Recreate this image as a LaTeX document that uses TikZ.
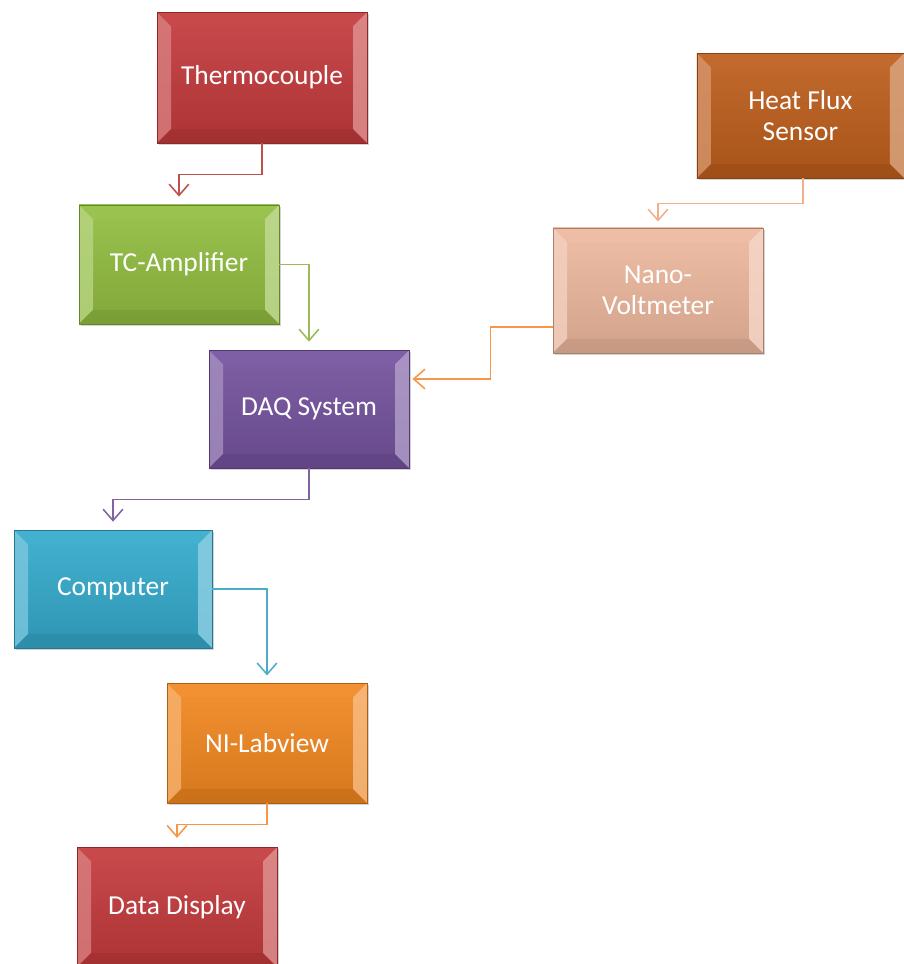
\documentclass[tikz,border=0pt]{standalone}
\usepackage{fontspec}
\usepackage{tikz}
\usetikzlibrary{calc,arrows.meta,shadows}

\newfontfamily\blockfont{Carlito}

\definecolor{thermored}{RGB}{196,58,60}
\definecolor{fluxbrown}{RGB}{190,94,28}
\definecolor{nanopeach}{RGB}{238,184,158}
\definecolor{ampgreen}{RGB}{146,190,64}
\definecolor{daqpurple}{RGB}{116,82,158}
\definecolor{compcyan}{RGB}{52,170,204}
\definecolor{labvieworange}{RGB}{242,136,32}

\definecolor{linkred}{RGB}{192,80,77}
\definecolor{linkgreen}{RGB}{155,187,89}
\definecolor{linkpeach}{RGB}{240,176,140}
\definecolor{linkorange}{RGB}{247,150,70}
\definecolor{linkpurple}{RGB}{128,100,162}
\definecolor{linkcyan}{RGB}{75,172,198}

\tikzset{
  blockbox/.style={
    draw=#1!70!black, line width=0.5pt,
    top color=#1!92!white, bottom color=#1!88!black,
    minimum width=5cm, minimum height=2.975cm,
    text=white, align=center, inner sep=0pt,
    font=\blockfont\fontsize{19.5}{22.5}\selectfont,
    drop shadow={opacity=0.35, shadow xshift=0.04cm, shadow yshift=-0.05cm},
    path picture={
      % side bevels
      \fill[#1!65!white, opacity=0.8] (path picture bounding box.north west) -- ++(0.35cm,-0.35cm)
        -- ($(path picture bounding box.south west)+(0.35cm,0.35cm)$) -- (path picture bounding box.south west) -- cycle;
      \fill[#1!55!white, opacity=0.8] (path picture bounding box.north east) -- ++(-0.35cm,-0.35cm)
        -- ($(path picture bounding box.south east)+(-0.35cm,0.35cm)$) -- (path picture bounding box.south east) -- cycle;
      % top and bottom bevels
      \fill[#1!92!white, opacity=0.7] (path picture bounding box.north west) -- ++(0.35cm,-0.35cm)
        -- ($(path picture bounding box.north east)+(-0.35cm,-0.35cm)$) -- (path picture bounding box.north east) -- cycle;
      \fill[#1!82!black, opacity=0.7] (path picture bounding box.south west) -- ++(0.35cm,0.35cm)
        -- ($(path picture bounding box.south east)+(-0.35cm,0.35cm)$) -- (path picture bounding box.south east) -- cycle;
    }
  },
  flow/.style={draw=#1, line width=1.1pt, -{Straight Barb[length=8pt,width=14pt]}},
}

\begin{document}
\begin{tikzpicture}
  \useasboundingbox (0,0) rectangle (22.6,-24.1);

  \node[blockbox=thermored, minimum width=5.25cm, minimum height=3.275cm] (thermo) at (6.55,-1.94) {Thermocouple};
  \node[blockbox=fluxbrown, minimum width=5.175cm, minimum height=3.125cm] (flux) at (20.01,-2.89) {Heat Flux\\Sensor};
  \node[blockbox=nanopeach, minimum width=5.25cm, minimum height=3.125cm] (nano) at (16.45,-7.26) {Nano-\\Voltmeter};
  \node[blockbox=ampgreen] (tcamp) at (4.475,-6.61) {TC-Amplifier};
  \node[blockbox=daqpurple, minimum height=2.95cm] (daq) at (7.725,-10.225) {DAQ System};
  \node[blockbox=compcyan, minimum width=4.95cm, minimum height=2.95cm] (comp) at (2.825,-14.725) {Computer};
  \node[blockbox=labvieworange, minimum height=3cm] (ni) at (6.675,-18.575) {NI-Labview};
  \node[blockbox=thermored, minimum height=3cm] (disp) at (4.425,-22.675) {Data Display};

  % connectors
  \draw[flow=linkred, shorten >=0.2cm] (thermo.south) -- ++(0,-0.775) -| (tcamp.north);
  \draw[flow=linkgreen, shorten >=0.2cm] (tcamp.east) -| (daq.north);
  \draw[flow=linkpeach, shorten >=0.15cm] ([xshift=0.06cm]flux.south) -- ++(0,-0.625) -| (nano.north);
  \draw[flow=linkorange, shorten >=0.08cm] ([yshift=-0.91cm]nano.west) -- ++(-1.55,0) |- ([yshift=0.75cm]daq.east);
  \draw[flow=linkpurple, shorten >=0.2cm] (daq.south) -- ++(0,-0.775) -| (comp.north);
  \draw[flow=linkcyan, shorten >=0.18cm] (comp.east) -| (ni.north);
  \draw[flow=linkorange, shorten >=0.22cm] (ni.south) -- ++(0,-0.525) -| (disp.north);
\end{tikzpicture}
\end{document}
